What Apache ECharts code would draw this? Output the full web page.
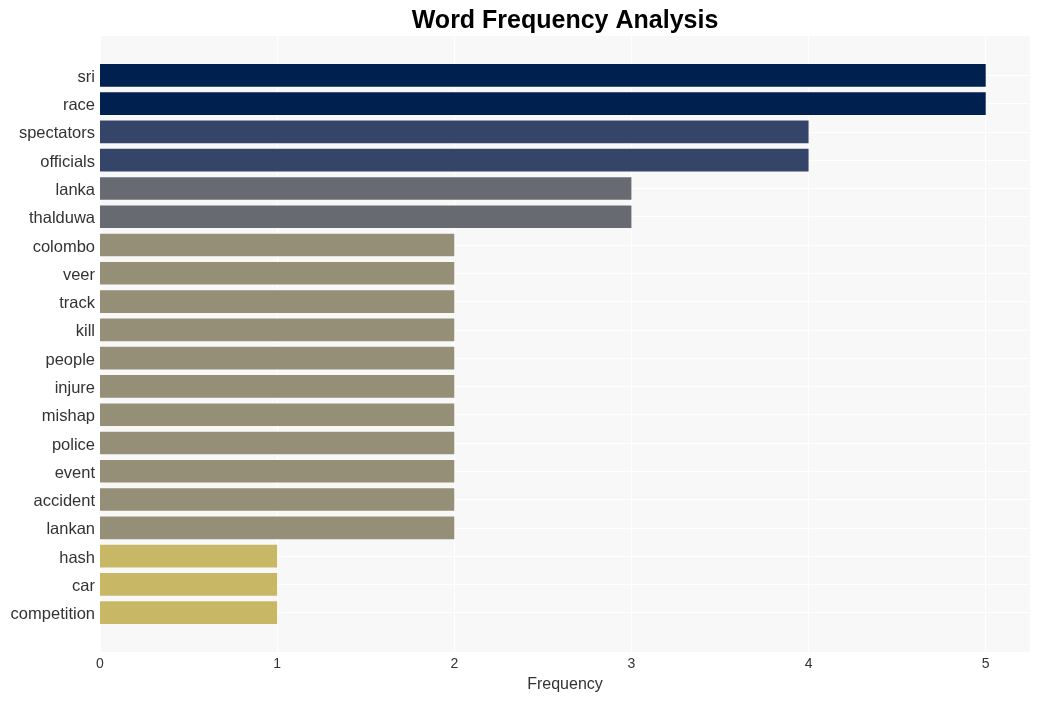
<!DOCTYPE html>
<html>
<head>
<meta charset="utf-8">
<script src="https://cdn.jsdelivr.net/npm/echarts@6/dist/echarts.min.js"></script>
<style>html,body{margin:0;padding:0;background:#fff}#c{width:1040px;height:701px}</style>
</head>
<body>
<div id="c"></div>
<script>
const categories = ["sri","race","spectators","officials","lanka","thalduwa","colombo","veer","track","kill","people","injure","mishap","police","event","accident","lankan","hash","car","competition"];
const values = [5,5,4,4,3,3,2,2,2,2,2,2,2,2,2,2,2,1,1,1];
const xTicks = [0,1,2,3,4,5];
const title = "Word Frequency Analysis";
const xName = "Frequency";

const palette = {5:"#00204f",4:"#354469",3:"#686a72",2:"#958f78",1:"#c8b866"};
const FONT = "'Liberation Sans', Arial, sans-serif";
const xMax = 5.25;

const chart = echarts.init(document.getElementById('c'), null, {renderer:'canvas'});
chart.setOption({
  animation:false,
  backgroundColor:'#ffffff',
  title:{text:title,left:560,textAlign:'center',top:4,textStyle:{fontFamily:FONT,fontSize:25,fontWeight:'bold',color:'#000'}},
  grid:[
    {left:100,right:10,top:36,bottom:49,show:true,backgroundColor:'#f8f8f8',borderWidth:0,containLabel:false},
    {left:100,right:10,top:61.2,bottom:74.2,containLabel:false}
  ],
  xAxis:[
    {type:'value',gridIndex:0,min:0,max:xMax,interval:1,
     name:xName,nameLocation:'middle',nameGap:25,nameTextStyle:{fontFamily:FONT,fontSize:16,color:'#333'},
     axisLine:{show:false},axisTick:{show:false},
     axisLabel:{fontFamily:FONT,fontSize:14,color:'#333',margin:5,showMaxLabel:false,
       formatter:v=>xTicks.includes(v)?String(v):''},
     splitLine:{show:true,lineStyle:{color:'#ffffff',width:1}}},
    {type:'value',gridIndex:1,min:0,max:xMax,show:false,splitLine:{show:false}}
  ],
  yAxis:[
    {type:'value',gridIndex:0,show:false,splitLine:{show:false}},
    {type:'category',gridIndex:1,data:categories,inverse:true,
     axisLine:{show:false},axisTick:{show:false,alignWithLabel:true},
     axisLabel:{fontFamily:FONT,fontSize:16.5,color:'#333',margin:5,
       formatter:v=>'{a|'+v+'}',
       rich:{a:{fontFamily:FONT,fontSize:16.5,color:'#333',padding:[4,0,0,0]}}},
     splitLine:{show:true,alignWithLabel:true,lineStyle:{color:'#ffffff',width:1}}}
  ],
  series:[{
    type:'bar',xAxisIndex:1,yAxisIndex:1,barWidth:'80%',
    data:values.map(v=>({value:v,itemStyle:{color:palette[v]}}))
  }]
});
</script>
</body>
</html>
